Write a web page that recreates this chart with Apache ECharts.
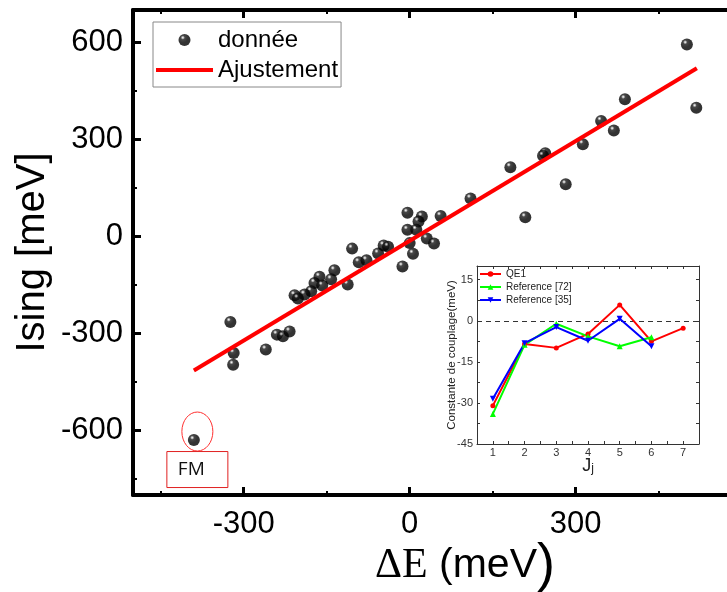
<!DOCTYPE html>
<html><head><meta charset="utf-8">
<script src="https://cdn.jsdelivr.net/npm/echarts@6/dist/echarts.min.js"></script>
<style>html,body{margin:0;padding:0;background:#fff}#c{width:727px;height:592px}</style>
</head><body><div id="c"></div>
<script>
// ---- main plot data ----
const deltaE = [-4, 22, 16, 56, -4, 12, 0, 31, 44, 6, -13, -104, -92, -78, -57, -47, -39, -136, -112, -163, -172, -158, -142, -178, -190, -208, -202, -324, -240, -229, -217, -260, -318, -319, 110, 182, 209, 282, 245, 241, 313, 346, 369, 389, 501, 518, -390];
const ising  = [73, 61, 46, 63, 20, 20, -21, -7, -22, -54, -93, -38, -80, -74, -53, -28, -32, -105, -149, -125, -144, -152, -133, -170, -180, -182, -192, -265, -304, -309, -294, -350, -361, -397, 117, 214, 59, 161, 257, 249, 285, 357, 327, 424, 593, 398, -630];
const fitX = [-390, 519];
const fitY = [-415, 520];
const xTicks = [-300, 0, 300];
const xMinor = [-450, -150, 150, 450];
const yTicks = [-600, -300, 0, 300, 600];
const yMinor = [-750, -450, -150, 150, 450];
const fmLabel = 'FM';
// ---- inset data ----
const jIndex = [1, 2, 3, 4, 5, 6, 7];
const jMinor = [1.5, 2.5, 3.5, 4.5, 5.5, 6.5];
const qe1   = [-31, -8.5, -9.9, -4.8, 5.8, -7.5, -2.7];
const ref72 = [-34, -8.8, -1.1, -5.7, -9.3, -6];
const ref35 = [-28.5, -8.2, -2.3, -7.3, 0.7, -9.3];
const insetYTicks = [-45, -30, -15, 0, 15];
const insetYMinor = [-37.5, -22.5, -7.5, 7.5];

const SANS = '"Liberation Sans", Arial, sans-serif';
const chart = echarts.init(document.getElementById('c'));

const ball = {type: 'radial', x: 0.36, y: 0.3, r: 0.72, colorStops: [
  {offset: 0, color: '#ffffff'}, {offset: 0.1, color: '#b0b0b0'},
  {offset: 0.24, color: '#1a1a1a'}, {offset: 0.6, color: '#000000'}, {offset: 1, color: '#000000'}]};

const blk = '#000';
const majTick = v => ({show: true, inside: true, length: 8, customValues: v, lineStyle: {color: blk, width: 3}});
const minTick = v => ({show: true, inside: true, length: 4, customValues: v, lineStyle: {color: blk, width: 2}});
const mainLine = {show: true, onZero: false, lineStyle: {color: blk, width: 4}};
const noLine = {show: false, onZero: false};
const noSplit = {show: false};
const XR = {min: -500, max: 700, type: 'value', gridIndex: 0};
const YR = {min: -800, max: 700, type: 'value', gridIndex: 0};

const insLine = {show: true, onZero: false, lineStyle: {color: '#333', width: 1}};
const insTick = v => ({show: true, inside: true, length: 3, customValues: v, lineStyle: {color: '#333', width: 1}});
const IX = {min: 0.5, max: 7.5, type: 'value', gridIndex: 1};
const IY = {min: -45, max: 20, type: 'value', gridIndex: 1};

const zip = (a, b) => a.map((v, i) => [v, b[i]]);

const option = {
  animation: false,
  backgroundColor: '#fff',
  textStyle: {fontFamily: SANS},
  grid: [
    {left: 133, top: 10, width: 664, height: 485, outerBoundsMode: 'none', containLabel: false},
    {left: 477, top: 266, width: 222, height: 178, outerBoundsMode: 'none', containLabel: false}
  ],
  legend: [
    {left: 153, top: 22, orient: 'vertical', padding: [5, 3, 4, 3], itemGap: 4,
     itemWidth: 57, itemHeight: 12, borderColor: '#888', borderWidth: 1,
     textStyle: {fontSize: 24, color: blk, lineHeight: 26, fontFamily: SANS},
     data: [{name: 'donnée'}, {name: 'Ajustement', icon: 'path://M0,0H57V4H0Z'}]},
    {left: 477, top: 267, orient: 'vertical', padding: [1, 2, 1, 2], itemGap: 1,
     itemWidth: 21, itemHeight: 7,
     textStyle: {fontSize: 10, color: '#222', lineHeight: 12, fontFamily: SANS},
     data: ['QE1', 'Reference [72]', 'Reference [35]']}
  ],
  xAxis: [
    Object.assign({}, XR, {position: 'bottom', axisLine: mainLine, axisTick: majTick(xTicks),
      axisLabel: {customValues: xTicks, fontSize: 31, color: blk, margin: 14, fontFamily: SANS},
      splitLine: noSplit,
      name: '{a|ΔE}{b| (meV}{c|)}', nameLocation: 'middle', nameGap: 44, nameMoveOverlap: false,
      nameTextStyle: {rich: {
        a: {fontFamily: '"Liberation Serif", "Times New Roman", serif', fontSize: 42, color: blk},
        b: {fontFamily: SANS, fontSize: 41, color: blk},
        c: {fontFamily: SANS, fontSize: 54, color: blk}}}}),
    Object.assign({}, XR, {position: 'bottom', axisLine: noLine, axisTick: minTick(xMinor), axisLabel: {show: false}, splitLine: noSplit}),
    Object.assign({}, XR, {position: 'top', axisLine: mainLine, axisTick: majTick(xTicks), axisLabel: {show: false}, splitLine: noSplit}),
    Object.assign({}, XR, {position: 'top', axisLine: noLine, axisTick: minTick(xMinor), axisLabel: {show: false}, splitLine: noSplit}),
    Object.assign({}, IX, {position: 'bottom', axisLine: insLine, axisTick: insTick(jIndex.concat(jMinor)),
      axisLabel: {customValues: jIndex, fontSize: 11, color: '#333', margin: 3, fontFamily: SANS},
      splitLine: noSplit,
      name: '{a|J}{b|j}', nameLocation: 'middle', nameGap: 13, nameMoveOverlap: false,
      nameTextStyle: {rich: {a: {fontSize: 18, color: '#222', fontFamily: SANS},
                             b: {fontSize: 12, color: '#222', fontFamily: SANS, padding: [6, 0, 0, 0]}}}}),
    Object.assign({}, IX, {position: 'top', axisLine: insLine, axisTick: insTick(jIndex.concat(jMinor)), axisLabel: {show: false}, splitLine: noSplit})
  ],
  yAxis: [
    Object.assign({}, YR, {position: 'left', axisLine: mainLine, axisTick: majTick(yTicks),
      axisLabel: {customValues: yTicks, fontSize: 31, color: blk, margin: 10, fontFamily: SANS},
      splitLine: noSplit,
      name: 'Ising [meV]', nameLocation: 'middle', nameGap: 80, nameMoveOverlap: false,
      nameTextStyle: {fontSize: 40, color: blk, fontFamily: SANS}}),
    Object.assign({}, YR, {position: 'left', axisLine: noLine, axisTick: minTick(yMinor), axisLabel: {show: false}, splitLine: noSplit}),
    Object.assign({}, YR, {position: 'right', axisLine: mainLine, axisTick: majTick(yTicks), axisLabel: {show: false}, splitLine: noSplit}),
    Object.assign({}, IY, {position: 'left', axisLine: insLine, axisTick: insTick(insetYTicks.concat(insetYMinor)),
      axisLabel: {customValues: insetYTicks, fontSize: 11, color: '#333', margin: 4, fontFamily: SANS},
      splitLine: noSplit,
      name: 'Constante de couplage(meV)', nameLocation: 'middle', nameGap: 19, nameMoveOverlap: false,
      nameTextStyle: {fontSize: 11.5, color: '#222', fontFamily: SANS}}),
    Object.assign({}, IY, {position: 'right', axisLine: insLine, axisTick: insTick(insetYTicks.concat(insetYMinor)), axisLabel: {show: false}, splitLine: noSplit})
  ],
  series: [
    {name: 'donnée', type: 'scatter', xAxisIndex: 0, yAxisIndex: 0, symbol: 'circle', symbolSize: 12,
     itemStyle: {color: ball}, z: 3, data: zip(deltaE, ising)},
    {name: 'Ajustement', type: 'line', xAxisIndex: 0, yAxisIndex: 0, symbol: 'none', z: 4,
     lineStyle: {color: '#ff0000', width: 4}, itemStyle: {color: '#ff0000'}, data: zip(fitX, fitY)},
    {name: 'QE1', type: 'line', xAxisIndex: 4, yAxisIndex: 3, symbol: 'circle', symbolSize: 5,
     lineStyle: {color: '#ff0000', width: 2}, itemStyle: {color: '#ff0000'}, z: 5,
     data: zip(jIndex, qe1),
     markLine: {silent: true, symbol: ['none', 'none'], label: {show: false},
       lineStyle: {color: '#333', width: 1, type: [5, 4]}, data: [{yAxis: 0}]}},
    {name: 'Reference [72]', type: 'line', xAxisIndex: 4, yAxisIndex: 3, symbol: 'triangle', symbolSize: 6,
     lineStyle: {color: '#00ff00', width: 2}, itemStyle: {color: '#00ff00'}, z: 5,
     data: zip(jIndex, ref72)},
    {name: 'Reference [35]', type: 'line', xAxisIndex: 4, yAxisIndex: 3, symbol: 'triangle', symbolRotate: 180, symbolSize: 6,
     lineStyle: {color: '#0000ff', width: 2}, itemStyle: {color: '#0000ff'}, z: 5,
     data: zip(jIndex, ref35)}
  ]
};
chart.setOption(option);

// FM annotation placed around the FM data point
const fi = deltaE.length - 1;
const p = chart.convertToPixel({xAxisIndex: 0, yAxisIndex: 0}, [deltaE[fi], ising[fi]]);
chart.setOption({graphic: [
  {type: 'ellipse', shape: {cx: p[0] + 3.5, cy: p[1] - 8.5, rx: 15.5, ry: 19.5},
   style: {fill: 'none', stroke: '#ff3030', lineWidth: 1}, z: 10},
  {type: 'rect', shape: {x: p[0] - 27, y: p[1] + 11.5, width: 61, height: 36},
   style: {fill: 'none', stroke: '#e02020', lineWidth: 1}, z: 10},
  {type: 'text', x: p[0] - 16, y: p[1] + 29.5,
   style: {text: fmLabel, fontSize: 19, fill: '#111', fontFamily: '"Open Sans", "Noto Sans", sans-serif', verticalAlign: 'middle', align: 'left'}, z: 10}
]});
</script></body></html>
